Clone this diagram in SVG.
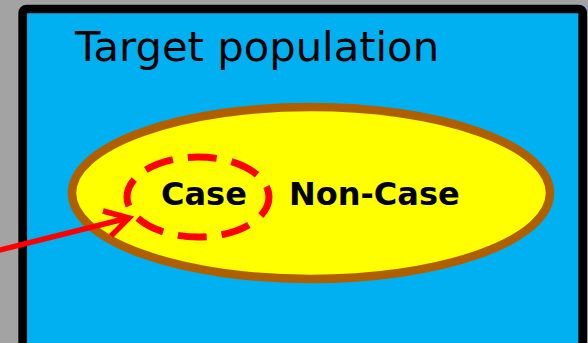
<svg xmlns="http://www.w3.org/2000/svg" width="588" height="343" viewBox="0 0 588 343">
  <style>
    .title { font-family: "DejaVu Sans", Verdana, sans-serif; font-size: 41.7px; fill: #000; }
    .label { font-family: "DejaVu Sans", Verdana, sans-serif; font-size: 32px; font-weight: bold; fill: #000; }
    .arrow { fill: none; stroke: #ff0000; stroke-width: 5.5; }
  </style>
  <rect x="0" y="0" width="588" height="343" fill="#a3a3a3"/>

  <g id="population">
    <rect x="22.7" y="9" width="560" height="340" rx="4" fill="#00b0f0" stroke="#000" stroke-width="8.7"/>
    <text class="title" x="75" y="61">Target population</text>
  </g>

  <g id="study-group">
    <ellipse cx="311" cy="193" rx="239" ry="86" fill="#ffff00" stroke="#b05f00" stroke-width="8.5"/>
  </g>

  <g id="case">
    <ellipse cx="198" cy="197" rx="71" ry="40" fill="none" stroke="#ff0000" stroke-width="7" stroke-dasharray="29 15" stroke-dashoffset="8"/>
    <text class="label" x="161" y="205">Case</text>
  </g>

  <g id="non-case">
    <text class="label" x="289" y="205">Non-Case</text>
  </g>

  <g id="connectors">
    <line class="arrow" x1="-2" y1="250.5" x2="128" y2="218"/>
    <path class="arrow" d="M103,211 L129,218 L111,236"/>
  </g>
</svg>
